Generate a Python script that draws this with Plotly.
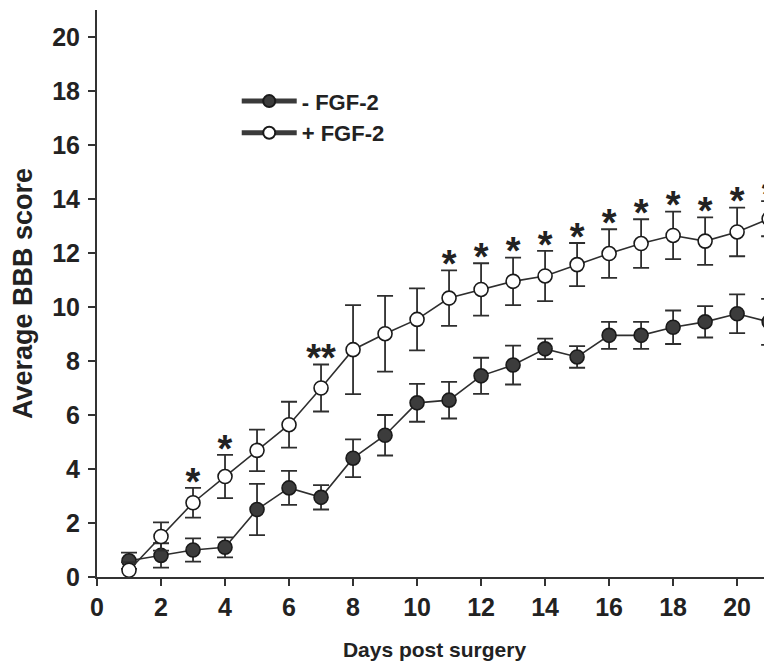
import plotly.graph_objects as go

days = list(range(1, 22))
minus_mean = [0.6, 0.8, 1.0, 1.1, 2.5, 3.3, 2.95, 4.4, 5.25, 6.45, 6.55, 7.45, 7.85, 8.45, 8.15, 8.95, 8.95, 9.25, 9.45, 9.75, 9.45]
minus_err = [0.3, 0.45, 0.43, 0.37, 0.95, 0.63, 0.45, 0.7, 0.75, 0.7, 0.68, 0.67, 0.72, 0.38, 0.4, 0.5, 0.5, 0.62, 0.58, 0.72, 0.85]
plus_mean = [0.25, 1.5, 2.75, 3.72, 4.69, 5.64, 7.0, 8.42, 9.01, 9.54, 10.33, 10.65, 10.95, 11.15, 11.57, 11.98, 12.35, 12.65, 12.44, 12.78, 13.27]
plus_err = [0.3, 0.52, 0.55, 0.8, 0.77, 0.85, 0.87, 1.65, 1.4, 1.15, 1.03, 0.97, 0.88, 0.93, 0.8, 0.9, 0.9, 0.88, 0.88, 0.9, 0.65]
sig_days = [3, 4, 7, 11, 12, 13, 14, 15, 16, 17, 18, 19, 20, 21]
sig_labels = ["*", "*", "**", "*", "*", "*", "*", "*", "*", "*", "*", "*", "*", "*"]
series_names = ["- FGF-2", "+ FGF-2"]
x_ticks = list(range(0, 21, 2))
y_ticks = list(range(0, 21, 2))

FONT = "Arial, Liberation Sans, sans-serif"
DARK = "#2e2e2e"
TXT = "#222222"
FILLS = ["#3c3c3c", "white"]

fig = go.Figure()
for name, mean, err, fill in zip(series_names, [minus_mean, plus_mean], [minus_err, plus_err], FILLS):
    fig.add_trace(go.Scatter(
        x=days, y=mean, name=name, mode="lines+markers", showlegend=False,
        line=dict(color=DARK, width=1.6),
        marker=dict(size=14, color=fill, line=dict(color="#1a1a1a", width=1.6)),
        error_y=dict(type="data", array=err, visible=True, color=DARK, thickness=1.8, width=8),
        cliponaxis=False,
    ))

# legend entries (no data, legend display only)
for name, fill in zip(series_names, FILLS):
    fig.add_trace(go.Scatter(
        x=[None], y=[None], name=name, mode="lines+markers",
        line=dict(color="#3a3a3a", width=0.8),
        marker=dict(size=14, color=fill, line=dict(color="#1a1a1a", width=1.6)),
    ))

idx = {d: i for i, d in enumerate(days)}
star_y = [plus_mean[idx[d]] + plus_err[idx[d]] + 0.1 for d in sig_days]
fig.add_trace(go.Scatter(
    x=sig_days, y=star_y, mode="text", text=sig_labels,
    textposition="middle center",
    textfont=dict(family=FONT, size=38, color=TXT, weight="bold"),
    showlegend=False, cliponaxis=False, hoverinfo="skip",
))

tick_font = dict(family=FONT, size=25, color=TXT, weight="bold")
fig.update_layout(
    width=764, height=658,
    margin=dict(l=89, r=0, t=2, b=89),
    paper_bgcolor="white", plot_bgcolor="white",
    showlegend=True,
    legend=dict(x=0.207, y=0.876, xanchor="left", yanchor="top",
                font=dict(family=FONT, size=22, color=TXT, weight="bold"),
                bgcolor="rgba(0,0,0,0)", tracegroupgap=0, itemsizing="constant",
                itemwidth=55),
    xaxis=dict(range=[0, 21.09], tickvals=x_ticks, ticks="outside", ticklen=7, tickwidth=1.5,
               tickcolor="#333", showline=True, linecolor="#333", linewidth=2,
               showgrid=False, zeroline=False, tickfont=tick_font, ticklabelstandoff=0,
               title=dict(text="Days post surgery",
                          font=dict(family=FONT, size=21, color=TXT, weight="bold"),
                          standoff=22)),
    yaxis=dict(range=[0, 21], tickvals=y_ticks, ticks="outside", ticklen=7, tickwidth=1.5,
               tickcolor="#333", showline=True, linecolor="#333", linewidth=2,
               showgrid=False, zeroline=False, tickfont=tick_font, ticklabelstandoff=3,
               title=dict(text="Average BBB score",
                          font=dict(family=FONT, size=27, color=TXT, weight="bold"),
                          standoff=12)),
)

fig.write_html("out.html")
